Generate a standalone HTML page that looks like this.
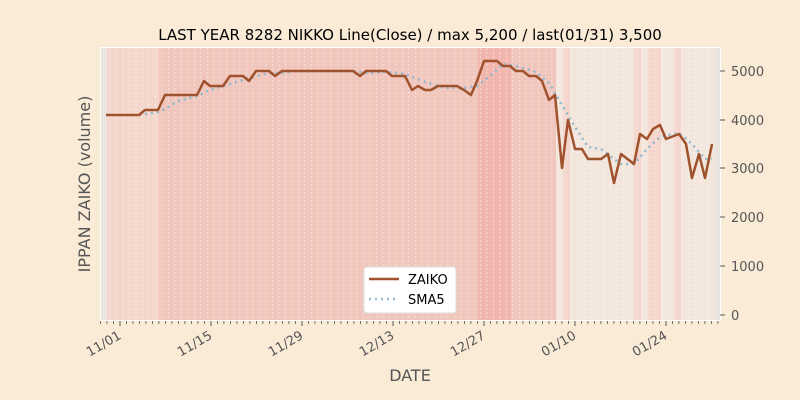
<!DOCTYPE html>
<html><head><meta charset="utf-8"><style>
body{margin:0;background:#faebd7;}
svg{display:block;font-family:"DejaVu Sans","Liberation Sans",sans-serif;}
</style></head><body>
<svg width="800" height="400" viewBox="0 0 800 400">
<defs>
<pattern id="vl" x="103" y="0" width="6.5" height="4" patternUnits="userSpaceOnUse">
<rect x="0" y="0" width="0.8" height="2" fill="#ffffff" opacity="0.55"/>
</pattern>
</defs>
<rect width="800" height="400" fill="#faebd7"/>
<rect x="100" y="47" width="621" height="274" fill="#ffffff"/>
<rect x="101" y="48" width="619" height="272" fill="#e8e4e0"/>
<rect x="107" y="48" width="52" height="272" fill="#f4d6cc"/>
<rect x="159" y="48" width="319" height="272" fill="#f0c6bd"/>
<rect x="478" y="48" width="33" height="272" fill="#f1b7ae"/>
<rect x="511" y="48" width="45" height="272" fill="#f0c6bd"/>
<rect x="556" y="48" width="158" height="272" fill="#f3e6dc"/>
<rect x="563" y="48" width="7" height="272" fill="#f4d6cc"/>
<rect x="634" y="48" width="7" height="272" fill="#f4d6cc"/>
<rect x="648" y="48" width="13" height="272" fill="#f4d6cc"/>
<rect x="674" y="48" width="7" height="272" fill="#f4d6cc"/>
<rect x="101" y="48" width="619" height="272" fill="url(#vl)"/>
<text x="410" y="40" font-size="15" text-anchor="middle" fill="#000">LAST YEAR 8282 NIKKO Line(Close) / max 5,200 / last(01/31) 3,500</text>
<polyline fill="none" stroke="#8fb8cf" stroke-width="2.5" stroke-dasharray="2,4" points="139,115 145,114 158,112 165,109 178,101 197,96 210,90 230,84 249,78 269,73 282,73 295,71 353,71 366,73 386,72 405,74 425,82 444,88 464,88 477,86 490,76 503,64 516,66 536,72 549,83 562,105 575,127 588,147 601,149 614,159 621,164 634,164 647,149 660,137 673,134 679,133 692,144 705,159 712,159"/>
<polyline fill="none" stroke="#a0522d" stroke-width="2.5" stroke-linejoin="round" points="106,115 139,115 145,110 158,110 165,95 197,95 204,81 210,86 223,86 230,76 243,76 249,81 256,71 269,71 275,76 282,71 353,71 360,76 366,71 386,71 392,76 405,76 412,90 418,86 425,90 431,90 438,86 457,86 464,90 471,95 477,81 484,61 497,61 503,66 510,66 516,71 523,71 529,76 536,76 542,81 549,100 555,95 562,168 568,120 575,149 582,149 588,159 601,159 608,154 614,183 621,154 634,164 640,134 647,139 653,129 660,125 666,139 679,134 686,144 692,178 699,154 705,178 712,144"/>
<g stroke="#555" stroke-width="1">
<line x1="720" y1="71" x2="725" y2="71"/><line x1="720" y1="120" x2="725" y2="120"/><line x1="720" y1="168" x2="725" y2="168"/><line x1="720" y1="217" x2="725" y2="217"/><line x1="720" y1="266" x2="725" y2="266"/><line x1="720" y1="315" x2="725" y2="315"/>
<line x1="120" y1="321" x2="120" y2="326"/><line x1="211" y1="321" x2="211" y2="326"/><line x1="302" y1="321" x2="302" y2="326"/><line x1="393" y1="321" x2="393" y2="326"/><line x1="484" y1="321" x2="484" y2="326"/><line x1="575" y1="321" x2="575" y2="326"/><line x1="666" y1="321" x2="666" y2="326"/>
</g>
<g stroke="#555" stroke-width="0.8">
<line x1="100" y1="321" x2="720" y2="321" stroke-dasharray="0.8,5.7" stroke-width="3" transform="translate(0,1.5)"/>
</g>
<g font-size="13" fill="#555">
<text x="731" y="76">5000</text><text x="731" y="125">4000</text><text x="731" y="173">3000</text><text x="731" y="222">2000</text><text x="731" y="271">1000</text><text x="731" y="320">0</text>
</g>
<g font-size="13" fill="#555" text-anchor="end">
<text transform="translate(122,338) rotate(-30)">11/01</text>
<text transform="translate(213,338) rotate(-30)">11/15</text>
<text transform="translate(304,338) rotate(-30)">11/29</text>
<text transform="translate(395,338) rotate(-30)">12/13</text>
<text transform="translate(486,338) rotate(-30)">12/27</text>
<text transform="translate(577,338) rotate(-30)">01/10</text>
<text transform="translate(668,338) rotate(-30)">01/24</text>
</g>
<text x="410" y="381" font-size="16" fill="#555" text-anchor="middle">DATE</text>
<text transform="translate(90,184) rotate(-90)" font-size="16" fill="#555" text-anchor="middle">IPPAN ZAIKO (volume)</text>
<rect x="364" y="267" width="92" height="46" rx="3" fill="#fff" stroke="#ddd"/>
<line x1="369" y1="279" x2="399" y2="279" stroke="#a0522d" stroke-width="2.5"/>
<line x1="369" y1="299" x2="399" y2="299" stroke="#8fb8cf" stroke-width="2.5" stroke-dasharray="2,4"/>
<text x="408" y="284" font-size="13" fill="#000">ZAIKO</text>
<text x="408" y="304" font-size="13" fill="#000">SMA5</text>
</svg>
</body></html>
